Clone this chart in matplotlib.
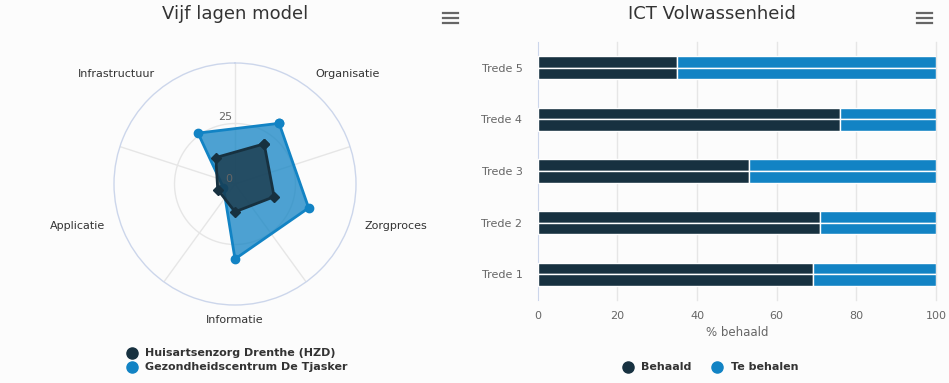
import matplotlib.pyplot as plt
import numpy as np
from matplotlib.lines import Line2D

plt.rcParams['font.family'] = 'DejaVu Sans'

# Radar data (Vijf lagen model)
layers = ['Organisatie', 'Zorgproces', 'Informatie', 'Applicatie', 'Infrastructuur']
hzd = [20.5, 17, 11.5, 7.5, 13.5]
tjasker = [31, 32, 31, 5, 26]
radar_ticks = [0, 25]

# Bar data (ICT Volwassenheid)
steps = ['Trede 1', 'Trede 2', 'Trede 3', 'Trede 4', 'Trede 5']
behaald = [69, 71, 53, 76, 35]
te_behalen = [31, 29, 47, 24, 65]
x_ticks = [0, 20, 40, 60, 80, 100]

dark = '#173140'
blue = '#1283c4'
bg = '#fcfcfc'
grid = '#e6e6e6'
txt = '#333333'
lbl = '#666666'

W, H = 949, 383
fig = plt.figure(figsize=(W / 100, H / 100), dpi=100, facecolor=bg)


def fx(px):
    return px / W


def fy(py):
    return 1 - py / H


# ---- radar ----
ax = fig.add_axes([fx(114), fy(305), 242 / W, 242 / H], projection='polar')
ax.set_facecolor('none')
ax.set_theta_zero_location('N')
ax.set_theta_direction(-1)
n = len(layers)
step = 2 * np.pi / n
angles = np.arange(n) * step + step / 2
ax.set_ylim(0, 50)
ax.set_xticks([])
ax.set_yticks([])
ax.grid(False)
ax.spines['polar'].set_color('#ccd6eb')
ax.spines['polar'].set_linewidth(1)

t = np.linspace(0, 2 * np.pi, 400)
ax.plot(t, np.full_like(t, 25), color=grid, lw=1, zorder=1)
for a in np.arange(n) * step:
    ax.plot([a, a], [0, 50], color=grid, lw=1, zorder=1)

closed = np.append(angles, angles[0])
for vals, color, marker, ms, z in [(tjasker, blue, 'o', 6, 2), (hzd, dark, 'D', 5, 4)]:
    v = np.append(vals, vals[0])
    ax.fill(closed, v, color=color, alpha=0.75, lw=0, zorder=z)
    ax.plot(closed, v, color=color, lw=2, marker=marker, ms=ms, zorder=z + 1)

for a, lab in zip(angles, layers):
    deg = np.degrees(a)
    ha = 'left' if deg < 170 else ('center' if deg < 190 else 'right')
    ax.text(a, 56.2, lab, ha=ha, va='center', fontsize=8, color=txt, clip_on=False)

for r, dy in zip(radar_ticks, (5, 2)):
    ax.annotate(str(r), xy=(0, r), xytext=(-3, dy), textcoords='offset pixels',
                ha='right', va='center' if r == 0 else 'bottom', fontsize=8,
                color=lbl, zorder=7)

# ---- bars ----
bx = fig.add_axes([fx(537.7), fy(300), (936 - 537.7) / W, 258 / H])
bx.set_facecolor('none')
y = np.arange(len(steps))
h = 0.225
for off in (h / 2, -h / 2):
    bx.barh(y + off, behaald, height=h, color=dark, edgecolor='white', lw=1, zorder=3)
    bx.barh(y + off, te_behalen, left=behaald, height=h, color=blue,
            edgecolor='white', lw=1, zorder=3)
bx.set_xlim(0, 100)
bx.set_ylim(-0.5, len(steps) - 0.5)
bx.set_xticks(x_ticks)
bx.set_yticks(y, steps)
for xv in x_ticks[1:]:
    bx.axvline(xv, color=grid, lw=1, zorder=1, clip_on=False)
for s in ['top', 'right', 'bottom']:
    bx.spines[s].set_visible(False)
bx.spines['left'].set_color('#ccd6eb')
bx.tick_params(axis='both', length=0, labelsize=8, labelcolor=lbl)
bx.tick_params(axis='y', pad=11)
bx.tick_params(axis='x', pad=8)

# ---- titles, labels ----
fig.text(fx(235), fy(14), 'Vijf lagen model', ha='center', va='center', fontsize=13, color=txt)
fig.text(fx(712), fy(14), 'ICT Volwassenheid', ha='center', va='center', fontsize=13, color=txt)
fig.text(fx(737), fy(333), '% behaald', ha='center', va='center', fontsize=8.5, color=lbl)

for cx in (450, 924):
    for yy in (12.7, 17.5, 22.5):
        fig.add_artist(Line2D([fx(cx - 7.5), fx(cx + 7.5)], [fy(yy), fy(yy)],
                              color=lbl, lw=1.6, transform=fig.transFigure))

# legends
for yy, color, name in [(352.5, dark, 'Huisartsenzorg Drenthe (HZD)'),
                        (367, blue, 'Gezondheidscentrum De Tjasker')]:
    fig.add_artist(Line2D([fx(131.5)], [fy(yy)], marker='o', ms=8, color=color,
                          ls='', transform=fig.transFigure))
    fig.text(fx(145), fy(yy), name, ha='left', va='center', fontsize=8,
             fontweight='bold', color=txt)

for xx, color, name in [(627.5, dark, 'Behaald'), (717, blue, 'Te behalen')]:
    fig.add_artist(Line2D([fx(xx)], [fy(367.3)], marker='o', ms=8, color=color,
                          ls='', transform=fig.transFigure))
    fig.text(fx(xx + 14), fy(367.3), name, ha='left', va='center', fontsize=8,
             fontweight='bold', color=txt)

fig.savefig('out.png', dpi=100, facecolor=bg)
